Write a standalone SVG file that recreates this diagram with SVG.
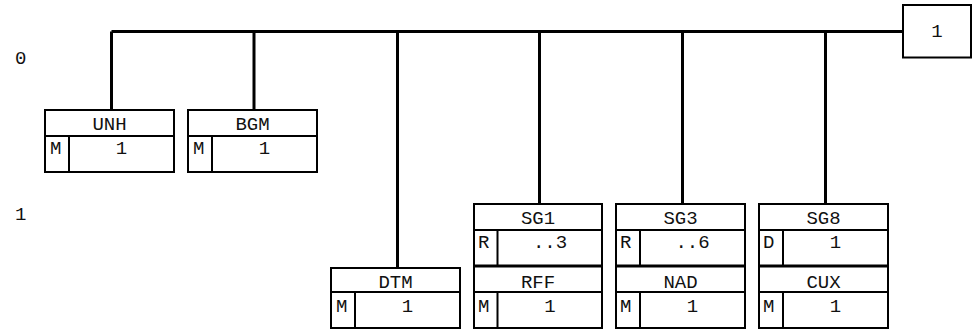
<svg xmlns="http://www.w3.org/2000/svg" width="972" height="331" viewBox="0 0 972 331">
<style>
text{font-family:"Liberation Mono","Courier New",monospace;font-size:19px;fill:#111}
.c{text-anchor:middle}
.b{fill:#fff;stroke:#000;stroke-width:2}
.d{stroke:#000;stroke-width:2;fill:none}
.k{stroke:#000;stroke-width:3;fill:none}
</style>
<rect width="972" height="331" fill="#fff"/>
<text x="15" y="64">0</text>
<text x="15" y="220">1</text>
<g id="connectors">
<path class="k" d="M111.5 31.5H903M111.5 31.5V110M254 31.5V110M397.5 31.5V268M539.5 31.5V204M682.5 31.5V204M825.5 31.5V204"/>
</g>
<g id="n_top"><rect class="b" x="903" y="5" width="68" height="52.5"/><text class="c" x="937" y="37">1</text></g>
<g id="n_unh"><rect class="b" x="45" y="110" width="129" height="62"/><path class="d" d="M45 136H174M69 136V172"/><text class="c" x="109.5" y="130">UNH</text><text x="50" y="154">M</text><text class="c" x="121.5" y="154">1</text></g>
<g id="n_bgm"><rect class="b" x="188" y="110" width="129" height="62"/><path class="d" d="M188 136H317M212 136V172"/><text class="c" x="252.5" y="130">BGM</text><text x="193" y="154">M</text><text class="c" x="264.5" y="154">1</text></g>
<g id="n_dtm"><rect class="b" x="331" y="268" width="129" height="60"/><path class="d" d="M331 292H460M355 292V328"/><text class="c" x="395.5" y="288">DTM</text><text x="336" y="312">M</text><text class="c" x="407.5" y="312">1</text></g>
<g id="n_sg1"><rect class="b" x="474" y="204" width="128" height="62"/><path class="d" d="M474 230H602M497.5 230V266"/><text class="c" x="538" y="224">SG1</text><text x="478" y="248">R</text><text class="c" x="550" y="248">..3</text></g>
<g id="n_rff"><rect class="b" x="474" y="266" width="128" height="62"/><path class="d" d="M474 292H602M497.5 292V328"/><text class="c" x="538" y="288">RFF</text><text x="478" y="312">M</text><text class="c" x="550" y="312">1</text></g>
<g id="n_sg3"><rect class="b" x="616" y="204" width="129" height="62"/><path class="d" d="M616 230H745M640 230V266"/><text class="c" x="680.5" y="224">SG3</text><text x="620" y="248">R</text><text class="c" x="692.5" y="248">..6</text></g>
<g id="n_nad"><rect class="b" x="616" y="266" width="129" height="62"/><path class="d" d="M616 292H745M640 292V328"/><text class="c" x="680.5" y="288">NAD</text><text x="620" y="312">M</text><text class="c" x="692.5" y="312">1</text></g>
<g id="n_sg8"><rect class="b" x="759" y="204" width="129" height="62"/><path class="d" d="M759 230H888M783 230V266"/><text class="c" x="823.5" y="224">SG8</text><text x="763" y="248">D</text><text class="c" x="835.5" y="248">1</text></g>
<g id="n_cux"><rect class="b" x="759" y="266" width="129" height="62"/><path class="d" d="M759 292H888M783 292V328"/><text class="c" x="823.5" y="288">CUX</text><text x="763" y="312">M</text><text class="c" x="835.5" y="312">1</text></g>
<path class="k" d="M474 266H602M616 266H745M759 266H888"/>
</svg>
